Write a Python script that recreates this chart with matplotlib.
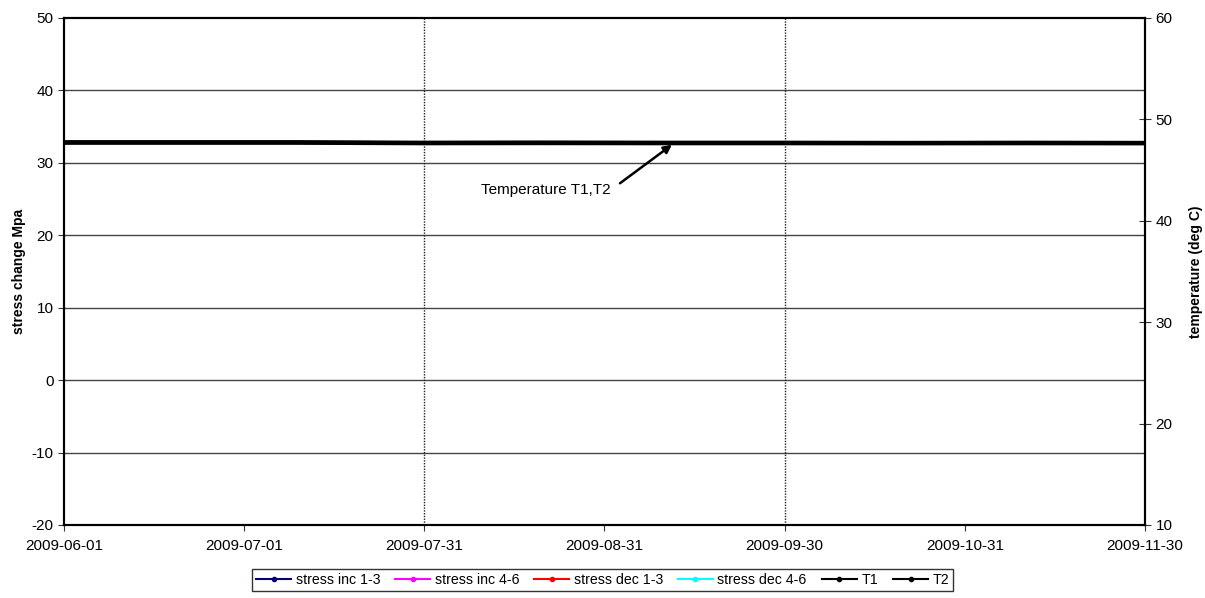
import matplotlib.pyplot as plt
import matplotlib.dates as mdates
import numpy as np
from datetime import datetime

plt.rcParams['font.family'] = ['Liberation Sans', 'DejaVu Sans']
plt.rcParams['axes.unicode_minus'] = False

# x axis range and tick labels (Excel-style, evenly spaced)
x_start = datetime(2009, 6, 1)
x_end = datetime(2009, 11, 30)
tick_labels = ["2009-06-01", "2009-07-01", "2009-07-31", "2009-08-31",
               "2009-09-30", "2009-10-31", "2009-11-30"]

# temperature readings (deg C)
t_dates = ["2009-06-01", "2009-06-20", "2009-07-10", "2009-07-31", "2009-08-20",
           "2009-09-10", "2009-09-30", "2009-10-20", "2009-11-10", "2009-11-30"]
T1 = [47.75, 47.75, 47.75, 47.7, 47.72, 47.7, 47.7, 47.68, 47.7, 47.68]
T2 = [47.7, 47.7, 47.7, 47.65, 47.66, 47.65, 47.65, 47.64, 47.65, 47.64]

# stress series (no data in this window)
stress_names = ["stress inc 1-3", "stress inc 4-6", "stress dec 1-3", "stress dec 4-6"]
stress_colors = ["#000080", "#ff00ff", "#ff0000", "#00ffff"]

fig = plt.figure(figsize=(12.05, 5.98), dpi=100)
ax = fig.add_axes([0.0531, 0.1221, 0.8971, 0.8478])
ax2 = ax.twinx()

x0 = mdates.date2num(x_start)
x1 = mdates.date2num(x_end)
tick_pos = np.linspace(x0, x1, len(tick_labels))

# left axis
ax.set_xlim(x0, x1)
ax.set_ylim(-20, 50)
ax.set_yticks([-20, -10, 0, 10, 20, 30, 40, 50])
ax.set_xticks(tick_pos)
ax.set_xticklabels(tick_labels)
ax.tick_params(axis='both', labelsize=11, direction='out', length=4, color='#333333')
ax.tick_params(axis='x', pad=6)
ax.set_ylabel("stress change Mpa", fontsize=10, fontweight='bold', labelpad=4)

for yv in [-10, 0, 10, 20, 30, 40]:
    ax.axhline(yv, color='#444444', lw=1.0, zorder=1)
for xv in [tick_pos[2], tick_pos[4]]:
    ax.axvline(xv, color='#222222', lw=1.0, ls=(0, (1, 1)), zorder=1)

handles = []
for name, c in zip(stress_names, stress_colors):
    h, = ax.plot([], [], color=c, marker='o', markersize=3, lw=1.5, label=name)
    handles.append(h)

# right axis
tx = [mdates.date2num(datetime.strptime(d, "%Y-%m-%d")) for d in t_dates]
ax2.plot(tx, T1, color='black', lw=3.0, label="T1", zorder=3)
ax2.plot(tx, T2, color='black', lw=3.0, label="T2", zorder=3)
ax2.set_ylim(10, 60)
ax2.set_yticks([10, 20, 30, 40, 50, 60])
ax2.tick_params(axis='y', labelsize=11, direction='inout', length=8, color='#333333')
ax2.set_ylabel("temperature (deg C)", fontsize=10, fontweight='bold', labelpad=12)

for a in (ax, ax2):
    for s in a.spines.values():
        s.set_linewidth(1.5)
        s.set_color('black')

span = x1 - x0
ax2.text(x0 + span * 0.4455, 43.0, "Temperature T1,T2", fontsize=11,
         ha='center', va='center')
ax2.annotate("", xy=(x0 + span * 0.5624, 47.5), xytext=(x0 + span * 0.5143, 43.7),
             arrowprops=dict(arrowstyle='-|>', color='black', lw=1.8,
                             mutation_scale=12, shrinkA=0, shrinkB=0))

leg_handles = handles + [
    plt.Line2D([], [], color='black', marker='o', markersize=3, lw=1.5),
    plt.Line2D([], [], color='black', marker='o', markersize=3, lw=1.5)]
leg = fig.legend(leg_handles, stress_names + ["T1", "T2"], loc='center',
                 bbox_to_anchor=(0.5, 0.030), ncol=6, fontsize=10.2,
                 frameon=True, fancybox=False, edgecolor='black', handlelength=2.5,
                 handletextpad=0.3, columnspacing=1.05, borderpad=0.3)
leg.get_frame().set_linewidth(1.0)

fig.savefig("out.png", dpi=100)
